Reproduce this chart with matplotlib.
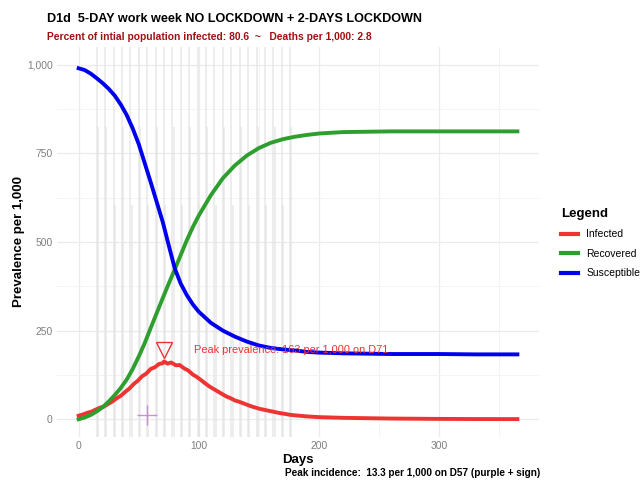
import matplotlib.pyplot as plt
from matplotlib.lines import Line2D
from matplotlib.ticker import FuncFormatter, MultipleLocator

plt.rcParams['font.family'] = ['Liberation Sans', 'DejaVu Sans']

# Susceptible / Recovered (per 1,000)
days_s = [0, 5, 10, 15, 20, 25, 30, 35, 40, 45, 50, 55, 60, 65, 70, 75, 80, 85, 90, 95,
          100, 110, 120, 130, 140, 150, 160, 170, 180, 190, 200, 220, 240, 260, 280, 300, 330, 365]
susceptible = [990, 985, 975, 962, 948, 932, 913, 888, 858, 820, 776, 722, 668, 612, 556, 490,
               425, 382, 350, 324, 303, 272, 250, 233, 219, 208, 201, 197, 194, 190, 188, 186,
               185, 184, 184, 184, 183, 183]
recovered = [0, 5, 12, 22, 34, 50, 68, 88, 112, 142, 177, 215, 258, 300, 342, 383, 423, 464,
             505, 542, 575, 632, 680, 716, 744, 765, 780, 790, 797, 802, 806, 810, 811, 812,
             812, 812, 812, 812]

# Infected (per 1,000), weekly wiggle from weekend lockdowns
days_i = [0, 4, 7, 11, 14, 18, 21, 25, 28, 32, 35, 39, 42, 46, 49, 53, 56, 60, 63, 67, 70, 71,
          74, 77, 81, 84, 88, 91, 95, 98, 102, 105, 109, 112, 116, 119, 123, 126, 130, 133, 137,
          140, 144, 147, 151, 154, 158, 161, 165, 168, 172, 175, 180, 190, 200, 220, 240, 260,
          280, 300, 330, 365]
infected = [10, 14, 18, 22, 27, 33, 36, 44, 50, 60, 66, 78, 86, 100, 108, 122, 128, 142, 146,
            156, 158, 163, 157, 160, 152, 153, 143, 138, 126, 120, 110, 102, 92, 86, 78, 72, 64,
            60, 53, 50, 45, 41, 36, 33, 29, 27, 24, 22, 19, 17, 15, 13, 11, 8, 6, 4, 3, 2, 1.5,
            1, 0.6, 0.4]

# weekend lockdown markers (first day of each weekend) and height of second-day line
weekends = [15, 22, 29, 36, 43, 50, 57, 64, 71, 78, 85, 92, 99, 106, 113, 120, 127, 134,
            141, 148, 155, 162, 169, 176]
second_top = [825, 825, 605, 825, 605, 825, 605, 825, 605, 825, 605, 825, 605, 825, 605, 825,
              605, 825, 605, 825, 605, 825, 605, 825]

peak_day, peak_val = 71, 163
inc_day, inc_val = 57, 13.3

c_inf = '#EE3333'
c_rec = '#2E9E2E'
c_sus = '#0000EE'

fig = plt.figure(figsize=(6.42, 4.87), dpi=100)
ax = fig.add_axes([0.0888, 0.1027, 0.7508, 0.8008])

ax.set_xlim(-18, 383)
ax.set_ylim(-50, 1050)

for d, h in zip(weekends, second_top):
    ax.axvline(d, color='#E3E3E3', lw=1.3, alpha=0.7, zorder=1)
    ax.vlines(d + 1, -50, h, color='#E3E3E3', lw=1.3, alpha=0.7, zorder=1)

ax.plot(days_i, infected, color=c_inf, lw=2.8, zorder=3)
ax.plot(days_s, recovered, color=c_rec, lw=2.8, zorder=3)
ax.plot(days_s, susceptible, color=c_sus, lw=2.8, zorder=3)

ax.plot(peak_day, peak_val + 32, marker='v', ms=11, mfc='none', mec=c_inf, mew=1, zorder=4)
ax.text(96, peak_val + 32, 'Peak prevalence: 163 per 1,000 on D71', color=c_inf,
        fontsize=7.9, va='center', ha='left', zorder=4)
ax.plot(inc_day, inc_val, marker='+', ms=14, mew=1, color='#C070F0', alpha=0.8, zorder=4)

ax.xaxis.set_major_locator(MultipleLocator(100))
ax.xaxis.set_minor_locator(MultipleLocator(50))
ax.yaxis.set_major_locator(MultipleLocator(250))
ax.yaxis.set_minor_locator(MultipleLocator(125))
ax.yaxis.set_major_formatter(FuncFormatter(lambda v, p: f'{int(v):,}'))
ax.grid(which='major', color='#EBEBEB', lw=0.9, zorder=0)
ax.grid(which='minor', color='#F3F3F3', lw=0.6, zorder=0)
ax.set_axisbelow(True)
for s in ax.spines.values():
    s.set_visible(False)
ax.tick_params(which='both', length=0, labelsize=7.4, labelcolor='#7F7F7F', pad=3)

ax.set_xlabel('Days', fontsize=9.5, fontweight='bold', labelpad=2)
ax.set_ylabel('Prevalence per 1,000', fontsize=9.5, fontweight='bold')
ax.yaxis.set_label_coords(-0.066, 0.5)

fig.text(0.073, 0.962, 'D1d  5-DAY work week NO LOCKDOWN + 2-DAYS LOCKDOWN',
         fontsize=9.1, fontweight='bold', va='center')
fig.text(0.073, 0.923, 'Percent of intial population infected: 80.6  ~   Deaths per 1,000: 2.8',
         fontsize=7.4, fontweight='bold', color='#A01010', va='center')
fig.text(0.841, 0.028, 'Peak incidence:  13.3 per 1,000 on D57 (purple + sign)',
         fontsize=7.2, fontweight='bold', ha='right', va='center')

handles = [Line2D([], [], color=c, lw=3) for c in (c_inf, c_rec, c_sus)]
leg = fig.legend(handles, ['Infected', 'Recovered', 'Susceptible'], title='Legend',
                 loc='upper left', bbox_to_anchor=(0.86, 0.592), frameon=False,
                 fontsize=7.5, title_fontproperties={'weight': 'bold', 'size': 9.5},
                 handlelength=1.6, labelspacing=0.9, alignment='left')

fig.savefig('out.png', dpi=100)
